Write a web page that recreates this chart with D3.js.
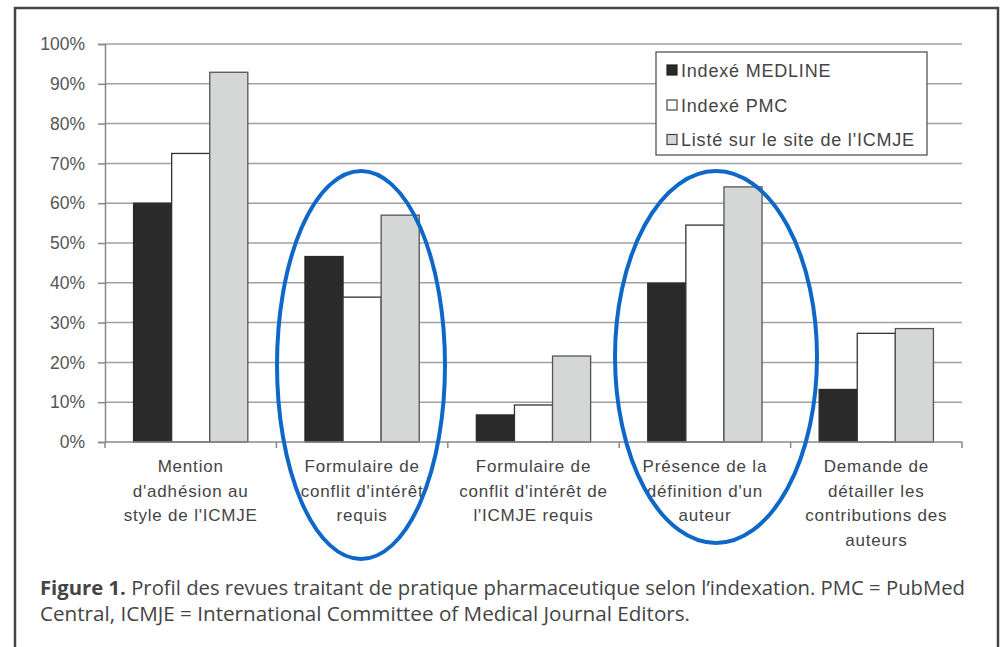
<!DOCTYPE html>
<html lang="fr">
<head>
<meta charset="UTF-8">
<title>Figure 1</title>
<script src="https://d3js.org/d3.v7.min.js"></script>
<style>
  body { margin: 0; background: #fff; }
  svg { display: block; }
  .tick text { font-family: "Liberation Sans", Arial, sans-serif; font-size: 17.5px; fill: #555; }
  .cat { font-family: "Liberation Sans", Arial, sans-serif; font-size: 17px; fill: #444; text-anchor: middle; letter-spacing: 0.8px; }
  .leg { font-family: "Liberation Sans", Arial, sans-serif; font-size: 18px; fill: #444; letter-spacing: 0.8px; }
  .cap { font-family: "Open Sans", sans-serif; font-size: 19.5px; fill: #444; }
</style>
</head>
<body>
<svg width="1004" height="647"></svg>
<script>
const categories = [
  ["Mention", "d'adhésion au", "style de l'ICMJE"],
  ["Formulaire de", "conflit d'intérêt", "requis"],
  ["Formulaire de", "conflit d'intérêt de", "l'ICMJE requis"],
  ["Présence de la", "définition d'un", "auteur"],
  ["Demande de", "détailler les", "contributions des", "auteurs"]
];
const seriesNames = ["Indexé MEDLINE", "Indexé PMC", "Listé sur le site de l'ICMJE"];
const medline = [60, 46.6, 6.8, 39.9, 13.2];
const pmc     = [72.5, 36.4, 9.3, 54.5, 27.3];
const icmje   = [92.9, 57, 21.6, 64.1, 28.5];
const yTicks  = [0, 10, 20, 30, 40, 50, 60, 70, 80, 90, 100];
const highlighted = [1, 3];   // groups circled in blue

const fills   = ["#2a2a2a", "#ffffff", "#d5d7d7"];
const strokes = ["#2a2a2a", "#333333", "#555555"];

const svg = d3.select("svg");
const series = [medline, pmc, icmje];

// outer frame
svg.append("rect").attr("x", 15).attr("y", 8).attr("width", 983).attr("height", 660)
  .attr("fill", "none").attr("stroke", "#444").attr("stroke-width", 2.5);

const plotL = 105, plotR = 962, plotT = 44, plotB = 442;
const x = d3.scaleBand().domain(d3.range(categories.length)).range([plotL, plotR]);
const y = d3.scaleLinear().domain([0, 100]).range([plotB, plotT]);
const inner = d3.scaleBand().domain(d3.range(3)).range([0, x.bandwidth()]).paddingOuter(0.75).paddingInner(0);

// gridlines
svg.append("g").selectAll("line").data(yTicks.slice(1)).join("line")
  .attr("x1", plotL).attr("x2", plotR)
  .attr("y1", d => y(d)).attr("y2", d => y(d))
  .attr("stroke", "#a0a0a0").attr("stroke-width", 1.5);

// y axis
const yAxis = svg.append("g").attr("transform", `translate(${plotL},0)`)
  .call(d3.axisLeft(y).tickValues(yTicks).tickFormat(d => d + "%").tickSize(7).tickPadding(13));
yAxis.select(".domain").attr("stroke", "#888").attr("stroke-width", 1.5);
yAxis.selectAll(".tick line").attr("stroke", "#888").attr("stroke-width", 1.5);

// bars
const groups = svg.append("g").selectAll("g").data(categories).join("g")
  .attr("transform", (d, i) => `translate(${x(i)},0)`);
groups.selectAll("rect").data((d, i) => series.map((s, k) => ({ k, v: s[i] }))).join("rect")
  .attr("x", d => inner(d.k)).attr("width", inner.bandwidth())
  .attr("y", d => y(d.v)).attr("height", d => plotB - y(d.v))
  .attr("fill", d => fills[d.k]).attr("stroke", d => strokes[d.k]).attr("stroke-width", 1.3);

// x axis
const xAxisG = svg.append("g").attr("transform", `translate(0,${plotB})`);
xAxisG.append("line").attr("x1", plotL).attr("x2", plotR).attr("stroke", "#888").attr("stroke-width", 1.5);
xAxisG.selectAll(".xt").data(d3.range(categories.length + 1)).join("line")
  .attr("x1", i => plotL + i * x.step()).attr("x2", i => plotL + i * x.step())
  .attr("y1", 0).attr("y2", 6).attr("stroke", "#888").attr("stroke-width", 1.5);

// category labels
svg.append("g").selectAll("text").data(categories).join("text")
  .attr("class", "cat")
  .attr("x", (d, i) => x(i) + x.bandwidth() / 2)
  .attr("y", 472)
  .selectAll("tspan").data(d => d).join("tspan")
  .attr("x", function () { return this.parentNode.getAttribute("x"); })
  .attr("dy", (d, j) => j === 0 ? 0 : 24.5)
  .text(d => d);

// legend
const leg = svg.append("g");
leg.append("rect").attr("x", 656).attr("y", 52).attr("width", 271).attr("height", 103)
  .attr("fill", "#fff").attr("stroke", "#555").attr("stroke-width", 1.3);
const rowY = [70, 105, 139.5];
seriesNames.forEach((name, k) => {
  leg.append("rect").attr("x", 667).attr("y", rowY[k] - 5).attr("width", 10).attr("height", 10)
    .attr("fill", fills[k]).attr("stroke", k === 0 ? "#222" : "#444").attr("stroke-width", 1.2);
  leg.append("text").attr("class", "leg").attr("x", 681).attr("y", rowY[k] + 6.5).text(name);
});

// highlight ellipses
svg.append("g").selectAll("ellipse").data(highlighted).join("ellipse")
  .attr("cx", i => i === 1 ? 361 : 716)
  .attr("cy", i => i === 1 ? 365 : 357)
  .attr("rx", i => i === 1 ? 84 : 101)
  .attr("ry", i => i === 1 ? 194 : 186)
  .attr("fill", "none").attr("stroke", "#0f68c8").attr("stroke-width", 4);

// caption
const cap = svg.append("text").attr("class", "cap").attr("x", 40).attr("y", 595)
  .attr("textLength", 925).attr("lengthAdjust", "spacingAndGlyphs");
cap.append("tspan").attr("font-weight", "bold").text("Figure 1.");
cap.append("tspan").text(" Profil des revues traitant de pratique pharmaceutique selon l’indexation. PMC = PubMed");
svg.append("text").attr("class", "cap").attr("x", 40).attr("y", 621)
  .attr("textLength", 650).attr("lengthAdjust", "spacingAndGlyphs")
  .text("Central, ICMJE = International Committee of Medical Journal Editors.");
</script>
</body>
</html>
